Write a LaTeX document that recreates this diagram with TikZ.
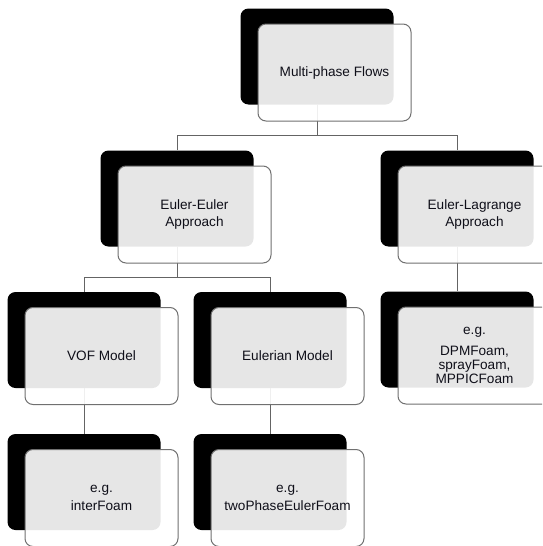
\documentclass[tikz,border=0pt]{standalone}
\usepackage{fontspec}
\setmainfont{Liberation Sans}
\definecolor{cardline}{RGB}{112,112,112}
\definecolor{linkline}{RGB}{100,100,100}
\definecolor{cardtext}{RGB}{15,15,25}
\begin{document}
\begin{tikzpicture}[x=1pt,y=-1pt,
  backbox/.style={fill=black,draw=none,rounded corners=8pt,
    minimum width=153pt,minimum height=96pt,inner sep=0pt},
  frontbox/.style={fill=white,fill opacity=0.9,text opacity=1,
    draw=cardline,line width=1pt,rounded corners=8pt,
    minimum width=153pt,minimum height=97pt,inner sep=0pt,align=center,
    text=cardtext,font=\fontsize{13.6}{17.5}\selectfont},
  link/.style={draw=linkline,line width=1pt}]
\useasboundingbox (0,0) rectangle (542,546);
\clip (0,0) rectangle (542,546);

% shadow blocks of every entry
\node[backbox] (mpb)    at (317,56.5) {};
\node[backbox] (eeb)    at (177,198.5) {};
\node[backbox] (elb)    at (457,198.5) {};
\node[backbox] (vofb)   at (84,340) {};
\node[backbox] (eub)    at (270,340) {};
\node[backbox] (dpmb)   at (457,339.5) {};
\node[backbox] (interb) at (84,482) {};
\node[backbox] (twob)   at (270,482) {};

% tree connectors
\path[link] (mpb.south) -- ++(0,31) coordinate (j1);
\path[link] (j1) -| (eeb.north);
\path[link] (j1) -| (elb.north);
\path[link] (eeb.south) -- ++(0,31) coordinate (j2);
\path[link] (j2) -| (vofb.north);
\path[link] (j2) -| (eub.north);
\path[link] (elb.south) -- (dpmb.north);
\path[link] (vofb.south) -- (interb.north);
\path[link] (eub.south) -- (twob.north);

% translucent label cards
\node[frontbox] (mp)    at ([shift={(17.5,16)}]mpb.center) {Multi-phase Flows};
\node[frontbox] (ee)    at ([shift={(17.5,16)}]eeb.center) {Euler-Euler\\Approach};
\node[frontbox] (el)    at ([shift={(17.5,16)}]elb.center) {Euler-Lagrange\\Approach};
\node[frontbox] (vof)   at ([shift={(17.5,16)}]vofb.center) {VOF Model};
\node[frontbox] (eu)    at ([shift={(17.5,16)}]eub.center) {Eulerian Model};
\node[frontbox] (dpm)   at ([shift={(17.5,16)}]dpmb.center)
  {e.g.\\[4pt]DPMFoam,\\[-4pt]sprayFoam,\\[-3pt]MPPICFoam};
\node[frontbox] (inter) at ([shift={(17.5,16)}]interb.center) {e.g.\\interFoam};
\node[frontbox] (two)   at ([shift={(17.5,16)}]twob.center) {e.g.\\twoPhaseEulerFoam};
\end{tikzpicture}
\end{document}
